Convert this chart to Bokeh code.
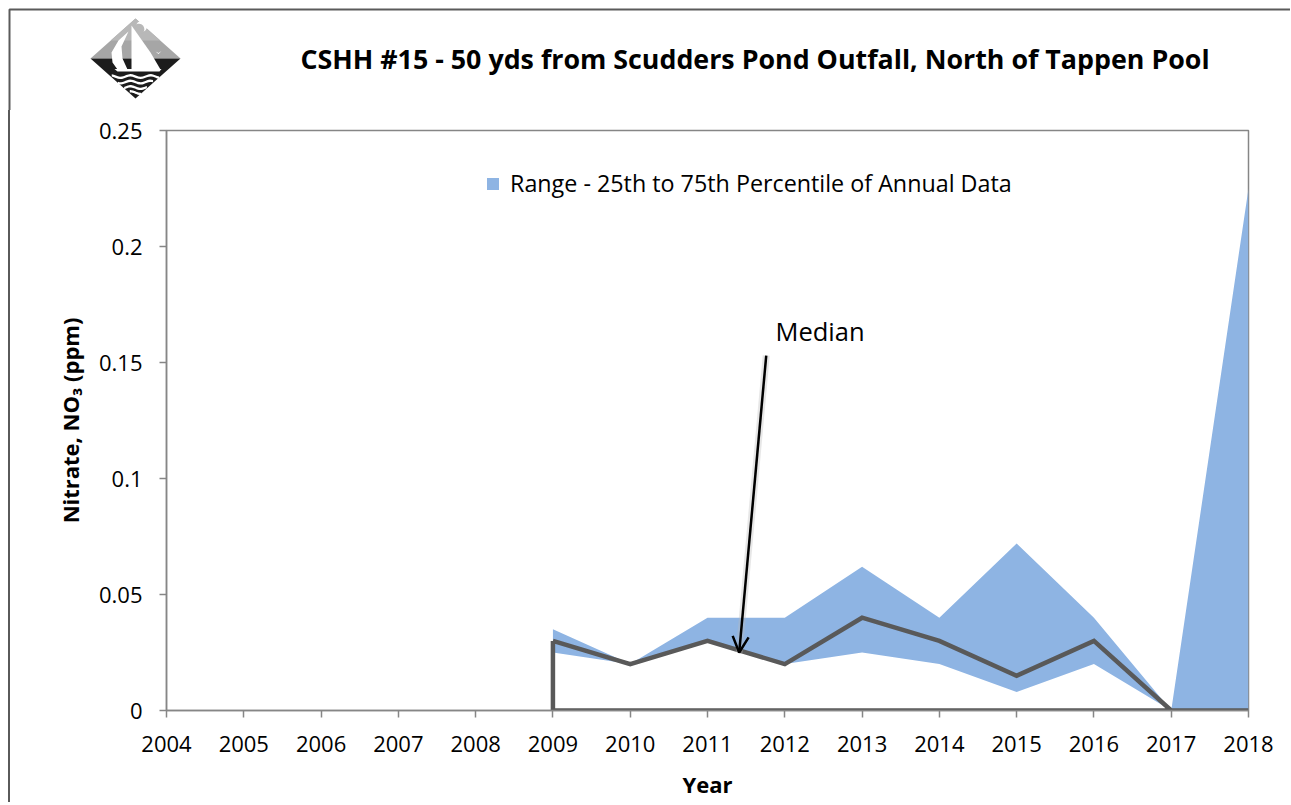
import numpy as np
from bokeh.plotting import figure
from bokeh.layouts import column, row
from bokeh.models import (FixedTicker, Label, Arrow, OpenHead, Legend, LegendItem, Range1d)
from bokeh.embed import file_html
from bokeh.resources import INLINE

# ---------------- data ----------------
years = [2009, 2010, 2011, 2012, 2013, 2014, 2015, 2016, 2017, 2018]
p25 = [0.025, 0.020, 0.030, 0.020, 0.025, 0.020, 0.008, 0.020, 0.0, 0.0]
p75 = [0.035, 0.020, 0.040, 0.040, 0.062, 0.040, 0.072, 0.040, 0.0, 0.225]
median = [0.030, 0.020, 0.030, 0.020, 0.040, 0.030, 0.015, 0.030, 0.0, 0.0]
x_ticks = list(range(2004, 2019))
y_ticks = [0, 0.05, 0.1, 0.15, 0.2, 0.25]
y_tick_labels = ["0", "0.05", "0.1", "0.15", "0.2", "0.25"]
title_text = "CSHH #15 - 50 yds from Scudders Pond Outfall, North of Tappen Pool"
legend_text = "Range - 25th to 75th Percentile of Annual Data"

# ---------------- layout constants ----------------
TOTAL_W, TOTAL_H = 1290, 802
HEAD_H = 110
FONT = "Open Sans"
BAND = "#8EB4E3"
LINE = "#595959"
AXIS = "#868686"
BORDER = "#5a5a5a"
BORDER_CSS = ("linear-gradient(to right, white 0px, white 8px, %s 8px, %s 10px, "
              "white 10px, white 100%%)" % (BORDER, BORDER))

# ---------------- header (logo + title), coordinates = page pixels ----------------
head = figure(width=TOTAL_W, height=HEAD_H, output_backend="svg", toolbar_location=None,
              x_range=Range1d(0, TOTAL_W), y_range=Range1d(HEAD_H, 0),
              x_axis_location=None, y_axis_location=None,
              min_border=0, min_border_left=0, min_border_right=0,
              min_border_top=0, min_border_bottom=0)
head.outline_line_color = None
head.background_fill_color = "white"
head.border_fill_color = "white"
for g in head.grid:
    g.visible = False
head.title.visible = False
head.line([9, 9, TOTAL_W + 5], [HEAD_H + 5, 9, 9], line_color=BORDER, line_width=2)

cx, top, mid, bot, hwid = 135.0, 18.0, 58.0, 98.0, 45.0
def poly(pts, color):
    head.patch([a for a, b in pts], [b for a, b in pts], fill_color=color, line_alpha=0)

poly([(cx - hwid, mid), (cx, top), (cx + hwid, mid)], "#a6a6a6")
poly([(cx - hwid * 0.55, mid - 18), (cx, top), (cx + hwid * 0.55, mid - 18)], "#b8b8b8")
poly([(cx - hwid, mid), (cx + hwid, mid), (cx, bot)], "#1c1c1c")
ang = np.linspace(0, 2 * np.pi, 30)
poly(list(zip(141 + 5.5 * np.cos(ang), 26 + 5.5 * np.sin(ang))), "white")
poly(list(zip(138.3 + 5.5 * np.cos(ang), 28.7 + 5.5 * np.sin(ang))), "#b8b8b8")
poly([(131, 25), (131, 69), (160, 69), (150, 52)], "white")
poly([(128, 31), (118, 40), (111, 52), (112, 62), (117, 69), (127, 69), (122, 58), (121, 46)], "white")
poly([(114, 68.5), (161, 68.5), (159, 71), (117, 71)], "white")
poly([(155, 51), (158, 52.5), (161, 50.5), (158, 53.5)], "white")
for yc in [76.0, 81.5, 87.0, 92.0]:
    hw = hwid * (bot - yc) / (bot - mid) - 1.0
    xs_w = np.linspace(cx - hw, cx + hw, 24)
    up = yc - 1.1 + 1.3 * np.sin((xs_w - cx) / 3.2)
    lo = up + 2.4
    poly(list(zip(xs_w, up)) + list(zip(xs_w[::-1], lo[::-1])), "white")

head.add_layout(Label(x=300, y=58, text=title_text, text_font=FONT, text_font_style="bold",
                      text_font_size="26.8px", text_align="left", text_baseline="middle",
                      text_color="black"))

# ---------------- main chart ----------------
MAIN_H = TOTAL_H - HEAD_H
FRAME_L, FRAME_R, FRAME_T, FRAME_B = 166, 1248, 130, 710
p = figure(width=TOTAL_W, height=MAIN_H, output_backend="svg", toolbar_location=None,
           x_range=Range1d(x_ticks[0], x_ticks[-1]), y_range=Range1d(y_ticks[0], y_ticks[-1]),
           min_border_left=FRAME_L, min_border_right=TOTAL_W - FRAME_R,
           min_border_top=FRAME_T - HEAD_H, min_border_bottom=TOTAL_H - FRAME_B,
           styles={"background": BORDER_CSS})
p.title.visible = False
p.xgrid.visible = False
p.ygrid.visible = False
p.outline_line_color = AXIS
p.outline_line_width = 1.5
p.background_fill_color = "white"
p.border_fill_alpha = 0.0

p.xaxis.ticker = FixedTicker(ticks=x_ticks)
p.yaxis.ticker = FixedTicker(ticks=y_ticks)
p.yaxis.major_label_overrides = {t: l for t, l in zip(y_ticks, y_tick_labels)}
for ax in (p.xaxis[0], p.yaxis[0]):
    ax.axis_line_color = AXIS
    ax.axis_line_width = 1.5
    ax.major_tick_line_color = AXIS
    ax.major_tick_line_width = 1.5
    ax.major_tick_in = 0
    ax.major_tick_out = 7
    ax.minor_tick_line_color = None
    ax.major_label_text_font = FONT
    ax.major_label_text_font_size = "22px"
    ax.major_label_text_color = "black"
    ax.axis_label_text_font = FONT
    ax.axis_label_text_font_style = "bold"
    ax.axis_label_text_font_size = "22px"
    ax.axis_label_text_color = "black"
p.xaxis.major_label_standoff = 18
p.yaxis.major_label_standoff = 17
p.xaxis.axis_label = "Year"
p.xaxis.axis_label_standoff = 14
p.yaxis.axis_label = "Nitrate, NO\u2083 (ppm)"
p.yaxis.axis_label_standoff = 11

band = p.varea(x=years, y1=p25, y2=p75, fill_color=BAND, fill_alpha=1.0)

line_x = years + [years[-1], years[0], years[0]]
line_y = median + [0, 0, median[0]]
p.line(line_x, line_y, line_color=LINE, line_width=4.5, line_join="miter")

legend = Legend(items=[LegendItem(label=legend_text, renderers=[band])],
                location=(319, 511), orientation="horizontal",
                glyph_width=15, glyph_height=15, label_standoff=10,
                label_text_font=FONT, label_text_font_size="23.3px",
                label_text_color="black",
                padding=0, margin=0, border_line_alpha=0, background_fill_alpha=0)
p.add_layout(legend, "center")

arr_start = (2011.76, 0.153)
arr_end = (2011.41, 0.025)
p.add_layout(Arrow(end=None, x_start=arr_start[0], y_start=arr_start[1],
                   x_end=arr_end[0], y_end=arr_end[1],
                   line_color="#bbbbbb", line_alpha=0.35, line_width=7))
p.add_layout(Arrow(end=OpenHead(size=16, line_width=2.5, line_color="black"),
                   x_start=arr_start[0], y_start=arr_start[1],
                   x_end=arr_end[0], y_end=arr_end[1],
                   line_color="black", line_width=2.5))
p.add_layout(Label(x=2011.88, y=0.1635, text="Median", text_font=FONT,
                   text_font_size="25.5px", text_baseline="middle", text_align="left",
                   text_color="black"))

# header wrapped in a row so that its frame is not aligned with the chart's frame
layout = column(row(head, spacing=0), p, spacing=0)
open("out.html", "w").write(file_html(layout, INLINE))
